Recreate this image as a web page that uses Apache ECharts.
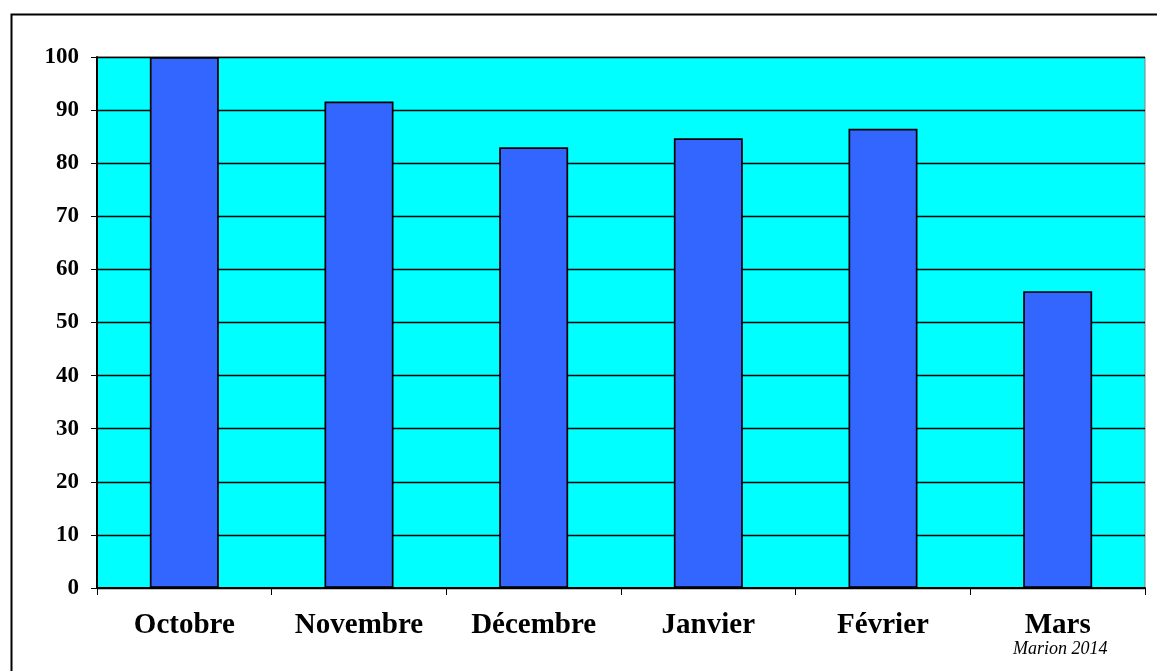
<!DOCTYPE html>
<html>
<head>
<meta charset="utf-8">
<script src="https://cdn.jsdelivr.net/npm/echarts@6/dist/echarts.min.js"></script>
<style>
html,body{margin:0;padding:0;background:#fff;}
#chart{width:1157px;height:671px;}
</style>
</head>
<body>
<div id="chart"></div>
<script>
const categories = ['Octobre','Novembre','Décembre','Janvier','Février','Mars'];
const values = [100, 91.6, 83.0, 84.7, 86.5, 55.9];
const yTicks = {min: 0, max: 100, interval: 10};
const credit = 'Marion 2014';

const chart = echarts.init(document.getElementById('chart'));
const serif = '"Liberation Serif", "Times New Roman", serif';
chart.setOption({
  animation: false,
  backgroundColor: '#ffffff',
  grid: {
    left: 97, right: 12, top: 57, bottom: 83,
    show: true, backgroundColor: '#00FFFF', borderColor: '#808080', borderWidth: 1
  },
  xAxis: {
    type: 'category',
    data: categories,
    axisLine: {lineStyle: {color: '#000', width: 2}},
    axisTick: {show: true, alignWithLabel: false, length: 7, lineStyle: {color: '#000', width: 1}},
    axisLabel: {color: '#000', fontFamily: serif, fontWeight: 'bold', fontSize: 29, margin: 23}
  },
  yAxis: {
    type: 'value',
    min: yTicks.min, max: yTicks.max, interval: yTicks.interval,
    axisLine: {show: true, lineStyle: {color: '#000', width: 2}},
    axisTick: {show: true, length: 6, lineStyle: {color: '#000', width: 1}},
    splitLine: {show: true, lineStyle: {color: '#000', width: 1.3}},
    axisLabel: {color: '#000', fontFamily: serif, fontWeight: 'bold', fontSize: 23, margin: 18}
  },
  series: [{
    type: 'bar',
    data: values,
    barWidth: 69,
    itemStyle: {color: '#3366FF', borderColor: '#000', borderWidth: 1.7}
  }],
  graphic: [
    {type: 'rect', left: 9, top: 12, shape: {width: 1170, height: 700},
     style: {fill: 'none', stroke: '#000', lineWidth: 2}, silent: true, z: -1},
    {type: 'text', left: 1013, top: 640,
     style: {text: credit, font: 'italic 18px ' + serif, fill: '#000'}}
  ]
});
</script>
</body>
</html>
